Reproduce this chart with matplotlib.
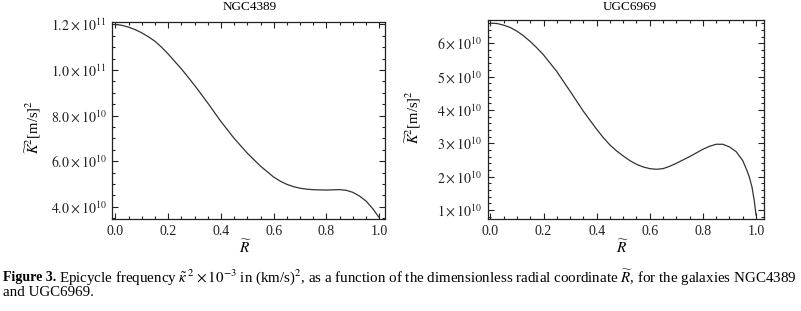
import matplotlib
matplotlib.use('Agg')
import matplotlib.pyplot as plt
from matplotlib.ticker import MultipleLocator

plt.rcParams['font.family'] = ['Liberation Serif', 'DejaVu Serif']
plt.rcParams['mathtext.fontset'] = 'stix'

# valeurs (en unites de 1e10)
r_ngc = [0.0, 0.025, 0.05, 0.075, 0.1, 0.125, 0.15, 0.175, 0.2, 0.25, 0.3, 0.35,
         0.4, 0.45, 0.5, 0.55, 0.6, 0.625, 0.65, 0.675, 0.7, 0.725, 0.75, 0.8,
         0.85, 0.875, 0.9, 0.925, 0.95, 0.975, 1.0]
k_ngc = [12.0, 11.96, 11.88, 11.77, 11.63, 11.46, 11.26, 11.0, 10.70, 10.05, 9.33,
         8.55, 7.74, 7.0, 6.35, 5.78, 5.30, 5.12, 4.98, 4.88, 4.81, 4.77, 4.745,
         4.73, 4.75, 4.72, 4.63, 4.47, 4.25, 3.92, 3.52]

r_ugc = [0.0, 0.025, 0.05, 0.075, 0.1, 0.125, 0.15, 0.175, 0.2, 0.25, 0.3, 0.35,
         0.4, 0.425, 0.45, 0.475, 0.5, 0.525, 0.55, 0.575, 0.6, 0.625, 0.65, 0.675,
         0.7, 0.75, 0.8, 0.825, 0.85, 0.875, 0.9, 0.925, 0.95, 0.965, 0.975, 0.985,
         0.993, 1.0]
k_ugc = [6.60, 6.59, 6.54, 6.47, 6.36, 6.22, 6.05, 5.86, 5.65, 5.15, 4.56, 3.96,
         3.42, 3.17, 2.95, 2.77, 2.62, 2.48, 2.37, 2.29, 2.24, 2.22, 2.24, 2.31,
         2.40, 2.60, 2.82, 2.91, 2.97, 2.97, 2.89, 2.75, 2.48, 2.20, 1.98, 1.68,
         1.30, 0.85]

ngc_ticks = [4.0, 6.0, 8.0, 10.0, 12.0]
ngc_labels = [r'$4.0\times10^{10}$', r'$6.0\times10^{10}$', r'$8.0\times10^{10}$',
              r'$1.0\times10^{11}$', r'$1.2\times10^{11}$']
ugc_ticks = [1, 2, 3, 4, 5, 6]
ugc_labels = [r'$%d\times10^{10}$' % v for v in ugc_ticks]
x_ticks = [0.0, 0.2, 0.4, 0.6, 0.8, 1.0]

W, H = 801, 311
fig = plt.figure(figsize=(W / 100, H / 100), dpi=100)
ax1 = fig.add_axes([112/W, (H - 219)/H, 273/W, 197.3/H])
ax2 = fig.add_axes([488/W, (H - 219)/H, 276/W, 199.5/H])


def style(ax, yticks, ylabels, yminor, xlim, ylim):
    ax.set_xlim(*xlim)
    ax.set_ylim(*ylim)
    ax.set_xticks(x_ticks)
    ax.set_xticklabels(['%.1f' % v for v in x_ticks])
    ax.xaxis.set_minor_locator(MultipleLocator(0.05))
    ax.set_yticks(yticks)
    ax.set_yticklabels(ylabels)
    ax.yaxis.set_minor_locator(MultipleLocator(yminor))
    ax.tick_params(which='both', direction='in', top=True, right=True,
                   labelsize=10, width=0.8, colors='#222222')
    ax.tick_params(which='major', length=4.5, pad=4)
    ax.tick_params(which='minor', length=2.5)
    for s in ax.spines.values():
        s.set_linewidth(0.9)
        s.set_color('#222222')


ax1.plot(r_ngc, k_ngc, color='#333333', lw=0.9)
style(ax1, ngc_ticks, ngc_labels, 0.5, (-0.013, 1.022), (3.46, 12.12))
ax2.plot(r_ugc, k_ugc, color='#333333', lw=0.9)
style(ax2, ugc_ticks, ugc_labels, 0.2, (-0.009, 1.030), (0.73, 6.71))

# titres et etiquettes placees a la main
fig.text(250/W, 1 - 7/H, 'NGC4389', fontsize=9.5, ha='center', va='center')
fig.text(630/W, 1 - 7/H, 'UGC6969', fontsize=9.5, ha='center', va='center')
ylab = r'$\widetilde{K}^2$[m/s]$^2$'
fig.text(33/W, 1 - 127/H, ylab, fontsize=10.5, rotation=90, ha='center', va='center')
fig.text(413/W, 1 - 117/H, ylab, fontsize=10.5, rotation=90, ha='center', va='center')
fig.text(245/W, 1 - 247/H, r'$\widetilde{R}$', fontsize=11, ha='center', va='center')
fig.text(622/W, 1 - 247/H, r'$\widetilde{R}$', fontsize=11, ha='center', va='center')

# legende de la figure
t1 = fig.text(3/W, 1 - 277/H, 'Figure 3.', fontsize=10, fontweight='bold', va='center')
fig.canvas.draw()
bb = t1.get_window_extent()
fig.text((bb.x1 + 3) / W, 1 - 277/H,
         r'Epicycle frequency $\tilde{\kappa}^{\;2}\times10^{-3}$ in (km/s)$^2$, as a function of the '
         r'dimensionless radial coordinate $\widetilde{R}$, for the galaxies NGC4389',
         fontsize=10.85, va='center')
fig.text(3/W, 1 - 292/H, 'and UGC6969.', fontsize=10.85, va='center')

fig.savefig('out.png', dpi=100)
